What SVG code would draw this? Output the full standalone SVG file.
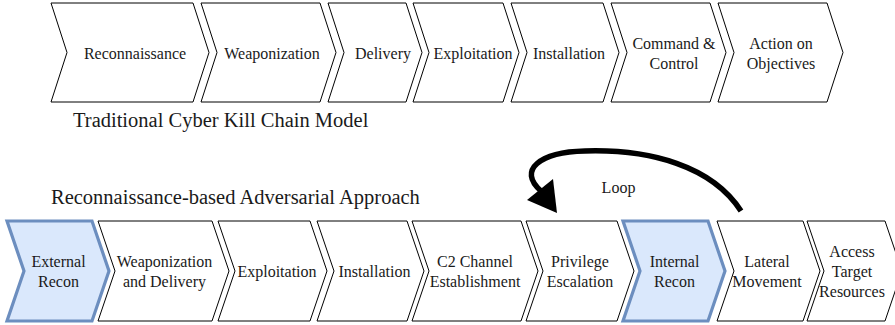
<svg xmlns="http://www.w3.org/2000/svg" width="895" height="325" viewBox="0 0 895 325">
<style>
.c{fill:#ffffff;stroke:#000000;stroke-width:1;stroke-linejoin:miter}
.h{fill:#dae8fc;stroke:#6c8ebf;stroke-width:3.2;stroke-linejoin:miter}
.t{font-family:"Liberation Serif","Times New Roman",serif;font-size:16px;fill:#1a1a1a;text-anchor:middle}
.ti{font-family:"Liberation Serif","Times New Roman",serif;font-size:20.5px;fill:#1a1a1a}
</style>
<rect width="895" height="325" fill="#ffffff"/>
<g id="top-row">
<g id="t-recon"><path class="c" d="M51,3 L193,3 L209,52.5 L193,102 L51,102 L67,52.5 Z"/><text class="t" x="135" y="59">Reconnaissance</text></g>
<g id="t-weapon"><path class="c" d="M201,3 L320,3 L336,52.5 L320,102 L201,102 L217,52.5 Z"/><text class="t" x="272" y="59">Weaponization</text></g>
<g id="t-delivery"><path class="c" d="M328,3 L406,3 L422,52.5 L406,102 L328,102 L344,52.5 Z"/><text class="t" x="383" y="59">Delivery</text></g>
<g id="t-exploit"><path class="c" d="M413,3 L503,3 L519,52.5 L503,102 L413,102 L429,52.5 Z"/><text class="t" x="473" y="59">Exploitation</text></g>
<g id="t-install"><path class="c" d="M511,3 L603,3 L619,52.5 L603,102 L511,102 L527,52.5 Z"/><text class="t" x="569" y="59">Installation</text></g>
<g id="t-c2"><path class="c" d="M611,3 L710,3 L726,52.5 L710,102 L611,102 L627,52.5 Z"/><text class="t" x="674" y="48.5">Command &amp;</text><text class="t" x="674" y="68.5">Control</text></g>
<g id="t-action"><path class="c" d="M718,3 L827,3 L843,52.5 L827,102 L718,102 L734,52.5 Z"/><text class="t" x="781" y="48.5">Action on</text><text class="t" x="781" y="68.5">Objectives</text></g>
</g>
<text id="title-top" class="ti" x="73" y="127">Traditional Cyber Kill Chain Model</text>
<text id="title-bottom" class="ti" x="51" y="204">Reconnaissance-based Adversarial Approach</text>
<g id="bottom-row">
<g id="b-ext"><path class="h" d="M7,221 L92,221 L109,271 L92,321 L7,321 L24,271 Z"/><text class="t" x="58.5" y="267">External</text><text class="t" x="58.5" y="287">Recon</text></g>
<g id="b-weapon"><path class="c" d="M98,221 L212,221 L229,271 L212,321 L98,321 L115,271 Z"/><text class="t" x="164.5" y="267">Weaponization</text><text class="t" x="164.5" y="287">and Delivery</text></g>
<g id="b-exploit"><path class="c" d="M218,221 L310,221 L327,271 L310,321 L218,321 L235,271 Z"/><text class="t" x="277" y="277">Exploitation</text></g>
<g id="b-install"><path class="c" d="M317,221 L407,221 L424,271 L407,321 L317,321 L334,271 Z"/><text class="t" x="374.5" y="277">Installation</text></g>
<g id="b-c2"><path class="c" d="M412,221 L521,221 L538,271 L521,321 L412,321 L429,271 Z"/><text class="t" x="475" y="267">C2 Channel</text><text class="t" x="475" y="287">Establishment</text></g>
<g id="b-priv"><path class="c" d="M526,221 L617,221 L634,271 L617,321 L526,321 L543,271 Z"/><text class="t" x="580" y="267">Privilege</text><text class="t" x="580" y="287">Escalation</text></g>
<g id="b-int"><path class="h" d="M623,221 L708,221 L725,271 L708,321 L623,321 L640,271 Z"/><text class="t" x="674.5" y="267">Internal</text><text class="t" x="674.5" y="287">Recon</text></g>
<g id="b-lateral"><path class="c" d="M717,221 L803,221 L820,271 L803,321 L717,321 L734,271 Z"/><text class="t" x="767" y="267">Lateral</text><text class="t" x="767" y="287">Movement</text></g>
<g id="b-access"><path class="c" d="M807,221 L885,221 L902,271 L885,321 L807,321 L824,271 Z"/><text class="t" x="852" y="257">Access</text><text class="t" x="852" y="277">Target</text><text class="t" x="852" y="297">Resources</text></g>
</g>
<g id="connectors">
<path d="M741,211 C712,166 650,149 585,151 C540,152 517,170 541,191" fill="none" stroke="#000000" stroke-width="5.5"/>
<polygon points="557,213 527,200 553,179" fill="#000000"/>
<text class="t" x="618.5" y="193">Loop</text>
</g>
</svg>
